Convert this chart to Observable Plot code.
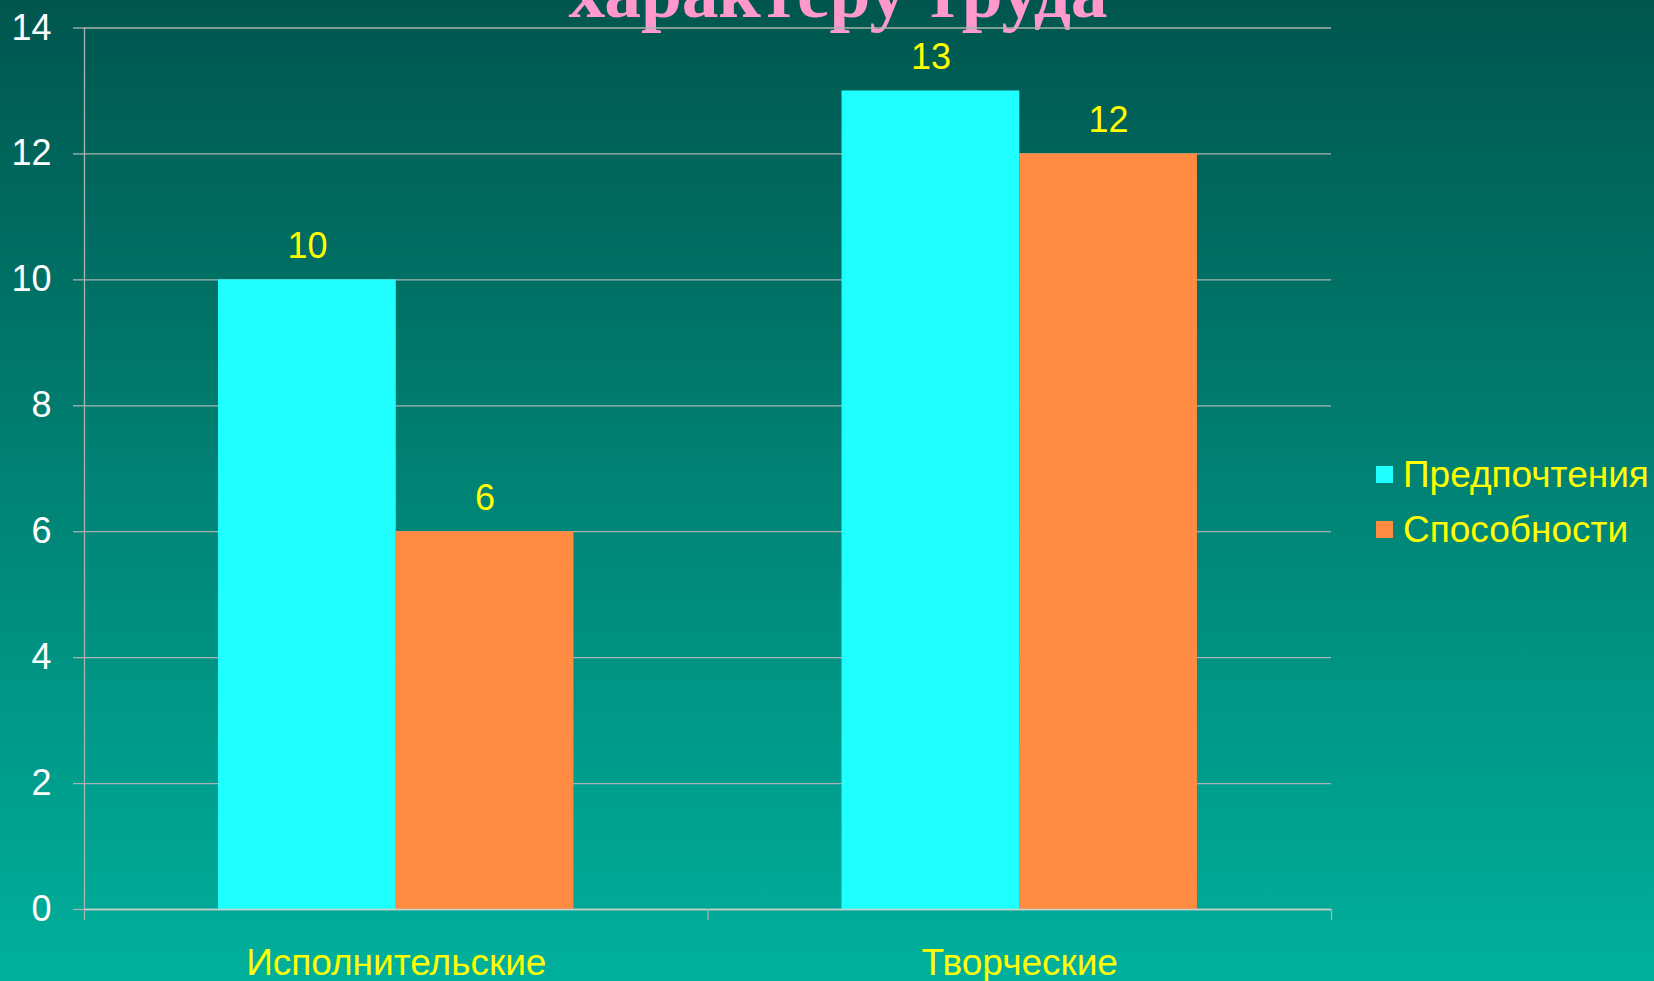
<!DOCTYPE html>
<html>
<head>
<meta charset="utf-8">
<script src="https://cdn.jsdelivr.net/npm/d3@7"></script>
<script src="https://cdn.jsdelivr.net/npm/@observablehq/plot@0.6"></script>
<style>
  html, body { margin: 0; padding: 0; overflow: hidden; }
  #wrap {
    position: relative; width: 1654px; height: 981px; overflow: hidden;
    background: linear-gradient(to bottom, #00564E 0%, #00B09C 100%);
    font-family: "Liberation Sans", Arial, sans-serif;
  }
  #title {
    position: absolute; left: 0; width: 1676px; top: -44px; text-align: center;
    font-family: "Liberation Serif", "Times New Roman", serif; font-weight: bold;
    font-size: 73.5px; line-height: 73.5px; color: #FF99CC; white-space: nowrap; z-index: 0;
  }
  #chart { position: absolute; left: 0; top: 0; z-index: 1; }
  #legend { position: absolute; left: 1376px; top: 447px; z-index: 2; }
  #legend .lg-swatch { height: 55px; display: flex; align-items: center; margin: 0; padding: 0; }
  #legend .lg-swatch svg { margin-right: 10px; }
</style>
</head>
<body>
<div id="wrap">
  <div id="title">характеру труда</div>
  <div id="chart"></div>
  <div id="legend"></div>
</div>
<script>
const categories = ["Исполнительские", "Творческие"];
const series = ["Предпочтения", "Способности"];
const preferences = [10, 13];
const abilities = [6, 12];
const yTicks = [0, 2, 4, 6, 8, 10, 12, 14];
const colors = ["#20FFFF", "#FF8A42"];

const valuesBySeries = [preferences, abilities];
const rows = [];
categories.forEach((c, ci) => {
  series.forEach((s, si) => {
    rows.push({category: c, ci, series: s, si, value: valuesBySeries[si][ci]});
  });
});

// group layout inside each category band (fractions of the band)
const outerGap = 0.215;
const barFrac = (1 - 2 * outerGap) / series.length;
const x1 = d => d.ci + outerGap + d.si * barFrac;
const x2 = d => d.ci + outerGap + (d.si + 1) * barFrac;

const font = "Liberation Sans, Arial, sans-serif";

const plot = Plot.plot({
  width: 1654,
  height: 981,
  marginLeft: 84,
  marginRight: 323,
  marginTop: 27.5,
  marginBottom: 72,
  style: {background: "transparent", fontFamily: font, overflow: "visible"},
  x: {type: "linear", domain: [0, categories.length], axis: null},
  y: {domain: [0, 14], axis: null},
  color: {domain: series, range: colors},
  marks: [
    Plot.gridY(yTicks, {stroke: "#A8B4B2", strokeOpacity: 1, strokeWidth: 1.3}),
    Plot.axisY({ticks: yTicks, tickSize: 11, tickPadding: 22, fontSize: 36, fill: "white", label: null,
      stroke: "#A8B4B2", strokeOpacity: 1, strokeWidth: 1.3, fontFamily: font}),
    Plot.ruleX([0], {y1: 0, y2: 14, stroke: "#A8B4B2", strokeWidth: 1.3}),
    Plot.rectY(rows, {x1, x2, y1: 0, y2: "value", fill: "series", inset: 0}),
    Plot.ruleY([0], {stroke: "#C8D4D2", strokeWidth: 1.5}),
    Plot.axisX({ticks: d3.range(0, categories.length + 1), tickSize: 11, tickFormat: () => "", label: null,
      stroke: "#A8B4B2", strokeOpacity: 1, strokeWidth: 1.3}),
    Plot.axisX({ticks: categories.map((c, i) => i + 0.5), tickSize: 0, tickPadding: 39, label: null,
      tickFormat: v => categories[Math.floor(v)], fontSize: 37, fill: "#FFFF00", fontFamily: font}),
    Plot.text(rows, {x: d => (x1(d) + x2(d)) / 2, y: "value", text: d => String(d.value),
      fill: "#FFFF00", fontSize: 36, dy: -33, fontFamily: font})
  ]
});
document.getElementById("chart").appendChild(plot);

const legend = Plot.legend({
  color: {domain: series, range: colors},
  legend: "swatches",
  swatchSize: 17,
  columns: 1,
  className: "lg",
  style: {fontSize: "37px", color: "#FFFF00", fontFamily: font, background: "transparent"}
});
document.getElementById("legend").appendChild(legend);
</script>
</body>
</html>
